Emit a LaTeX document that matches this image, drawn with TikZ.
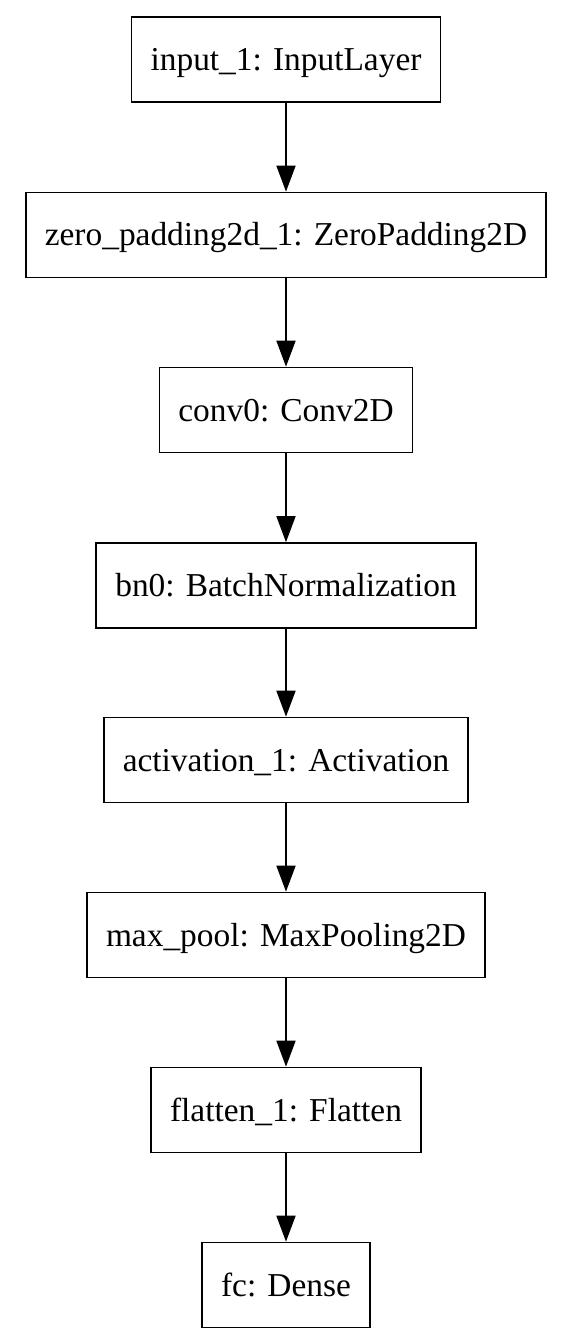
\documentclass[tikz,border=0pt]{standalone}
\usepackage{fontspec}
\setmainfont{Liberation Serif}
\usetikzlibrary{arrows.meta}

\begin{document}
\begin{tikzpicture}[x=1pt,y=1pt,line width=1.7pt,
	layer/.style={rectangle,draw,minimum height=85pt,inner xsep=19pt,text height=22pt,text depth=0pt,font=\fontsize{33.4}{40}\selectfont},
	flow/.style={-{Triangle[length=26pt,width=19pt]}}]
	\useasboundingbox (0,0) rectangle (564,-1340);
	% Level 0-1
	\node (input) [layer] at (286,-59.5) {input\_1: InputLayer};
	\node (zpad) [layer] at (286,-235) {zero\_padding2d\_1: ZeroPadding2D};
	\draw[flow] (input) -- (zpad);
	% Level 1-2
	\node (conv) [layer] at (286,-410) {conv0: Conv2D};
	\draw[flow] (zpad) -- (conv);
	% Level 2-3
	\node (bn) [layer] at (286,-585.5) {bn0: BatchNormalization};
	\draw[flow] (conv) -- (bn);
	% Level 3-4
	\node (act) [layer] at (286,-760) {activation\_1: Activation};
	\draw[flow] (bn) -- (act);
	% Level 4-5
	\node (pool) [layer] at (286,-935) {max\_pool: MaxPooling2D};
	\draw[flow] (act) -- (pool);
	% Level 5-6
	\node (flat) [layer] at (286,-1110) {flatten\_1: Flatten};
	\draw[flow] (pool) -- (flat);
	% Level 6-7
	\node (fc) [layer] at (286,-1285) {fc: Dense};
	\draw[flow] (flat) -- (fc);
\end{tikzpicture}
\end{document}
